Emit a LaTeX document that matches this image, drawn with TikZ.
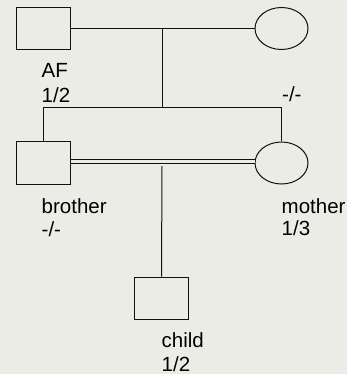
\documentclass[tikz,border=0pt]{standalone}
\usepackage{fontspec}
\setmainfont{Liberation Sans}
\usetikzlibrary{shapes.geometric}
\definecolor{paper}{HTML}{ECECE7}
\definecolor{ink}{HTML}{111111}
\begin{document}
\begin{tikzpicture}[x=1pt,y=-1pt,
  male/.style={draw=ink,line width=1pt,rectangle,minimum width=54pt,minimum height=42pt,inner sep=0pt},
  female/.style={draw=ink,line width=1pt,ellipse,minimum width=53pt,minimum height=42pt,inner sep=0pt},
  tag/.style={anchor=base west,inner sep=0pt,text=black,font=\fontsize{20.5}{23}\selectfont},
  link/.style={draw=ink,line width=1pt}]
% page and background
\fill[paper] (0,0) rectangle (347,374);
\useasboundingbox (0,0) rectangle (347,374);
% individuals
\node[male] (af) at (43,28.5) {};
\node[female] (afw) at (281.5,28.5) {};
\node[male] (bro) at (43,163) {};
\node[female] (mom) at (281.5,163) {};
\node[male] (child) at (161.5,298) {};
% junction points
\coordinate (mate1) at (162,28.5);
\coordinate (sib) at (162,108);
\coordinate (sibl) at (43,108);
\coordinate (sibr) at (281.5,108);
\coordinate (mate2) at (162,166);
% first couple and their children
\draw[link] (af.east) -- (afw.west);
\draw[link] (mate1) -- (sib);
\draw[link] (bro.north) -- (sibl) -- (sibr) -- (mom.north);
% consanguineous union
\draw[draw=ink,line width=1pt,double=paper,double distance=2.5pt]
  ([yshift=1.75pt]bro.east) -- ([yshift=1.75pt]mom.west);
\draw[link] (mate2) -- (child.north);
% labels
\node[tag] (afname) at (41.5,78) {AF};
\node[tag] (afgt) at (41.5,102.5) {1/2};
\node[tag] (afwgt) at (282,102) {-/-};
\node[tag] (broname) at (41.5,213) {brother};
\node[tag] (brogt) at (41.5,236) {-/-};
\node[tag] (momname) at (281.5,213) {mother};
\node[tag] (momgt) at (281.5,235) {1/3};
\node[tag] (childname) at (161.5,347) {child};
\node[tag] (childgt) at (161.5,371) {1/2};
\end{tikzpicture}
\end{document}
